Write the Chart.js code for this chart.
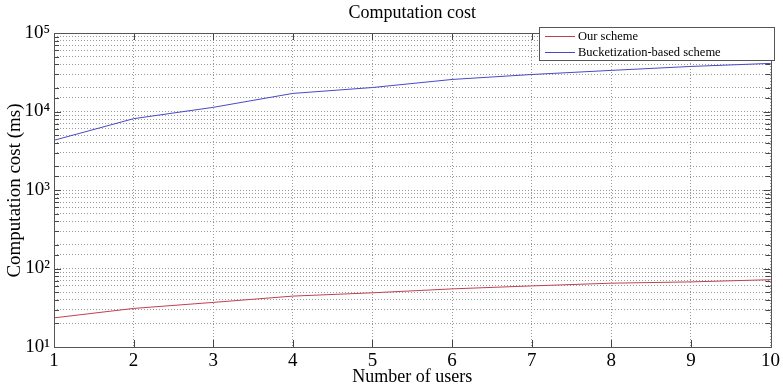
<!DOCTYPE html>
<html>
<head>
<meta charset="utf-8">
<script src="https://cdn.jsdelivr.net/npm/chart.js@4.4.0/dist/chart.umd.min.js"></script>
<style>
html,body{margin:0;padding:0;background:#fff;}
#wrap{width:783px;height:389px;}
</style>
</head>
<body>
<div id="wrap"><canvas id="c" width="783" height="389"></canvas></div>
<script>
const users = [1, 2, 3, 4, 5, 6, 7, 8, 9, 10];
const ourScheme = [23.5, 31, 37, 44.5, 49, 55, 60, 65, 67.5, 72];
const bucketScheme = [4300, 8100, 11300, 17000, 20200, 25600, 29600, 33400, 37500, 41000];
const xTickLabels = ['1','2','3','4','5','6','7','8','9','10'];
const titleText = 'Computation cost';
const xTitle = 'Number of users';
const yTitle = 'Computation cost (ms)';

const SERIF = "'Liberation Serif', 'Times New Roman', serif";
const SUP = {'0':'⁰','1':'¹','2':'²','3':'³','4':'⁴','5':'⁵','6':'⁶','7':'⁷','8':'⁸','9':'⁹'};
const RED = 'rgb(192,64,80)';
const BLUE = 'rgb(72,72,200)';

const decor = {
  id: 'decor',
  afterDraw(chart) {
    const ctx = chart.ctx;
    const a = chart.chartArea;
    const xs = chart.scales.x, ys = chart.scales.y;
    ctx.save();
    // inward tick marks
    ctx.strokeStyle = '#444';
    ctx.lineWidth = 1;
    ctx.setLineDash([]);
    ctx.beginPath();
    ys.ticks.forEach(t => {
      const y = Math.round(ys.getPixelForValue(t.value)) + 0.5;
      const major = Math.abs(Math.log10(t.value) - Math.round(Math.log10(t.value))) < 1e-9;
      const L = major ? 7 : 5;
      ctx.moveTo(a.left, y); ctx.lineTo(a.left + L, y);
      ctx.moveTo(a.right, y); ctx.lineTo(a.right - L, y);
    });
    xs.ticks.forEach(t => {
      const x = Math.round(xs.getPixelForValue(t.value)) + 0.5;
      ctx.moveTo(x, a.bottom); ctx.lineTo(x, a.bottom - 7);
      ctx.moveTo(x, a.top); ctx.lineTo(x, a.top + 7);
    });
    ctx.stroke();
    // frame
    ctx.strokeStyle = '#555';
    ctx.strokeRect(Math.round(a.left) + 0.5, Math.round(a.top) + 0.5,
                   Math.round(a.right - a.left), Math.round(a.bottom - a.top));
    // title
    ctx.fillStyle = '#000';
    ctx.font = '18px ' + SERIF;
    ctx.textAlign = 'center';
    ctx.textBaseline = 'middle';
    ctx.fillText(titleText, (a.left + a.right) / 2, 13);
    // x title
    ctx.fillText(xTitle, (a.left + a.right) / 2, 377);
    // y title
    ctx.save();
    ctx.font = '19px ' + SERIF;
    ctx.translate(15, 190.5);
    ctx.rotate(-Math.PI / 2);
    ctx.fillText(yTitle, 0, 0);
    ctx.restore();
    // legend
    const lx = 539, ly = 27, lw = 235, lh = 33;
    ctx.fillStyle = '#fff';
    ctx.fillRect(lx, ly, lw, lh);
    ctx.strokeStyle = '#555';
    ctx.strokeRect(lx + 0.5, ly + 0.5, lw, lh);
    ctx.font = '12.5px ' + SERIF;
    ctx.textAlign = 'left';
    chart.data.datasets.forEach((ds, i) => {
      const y = 35.5 + i * 16.5;
      ctx.strokeStyle = ds.borderColor;
      ctx.beginPath();
      ctx.moveTo(545, Math.round(y) + 0.5); ctx.lineTo(575, Math.round(y) + 0.5);
      ctx.stroke();
      ctx.fillStyle = '#000';
      ctx.fillText(ds.label, 578, y + 1);
    });
    ctx.restore();
  }
};

new Chart(document.getElementById('c'), {
  type: 'line',
  data: {
    labels: users,
    datasets: [
      { label: 'Our scheme', data: users.map((u, i) => ({x: u, y: ourScheme[i]})),
        borderColor: RED, borderWidth: 1, pointRadius: 0, tension: 0, fill: false },
      { label: 'Bucketization-based scheme', data: users.map((u, i) => ({x: u, y: bucketScheme[i]})),
        borderColor: BLUE, borderWidth: 1, pointRadius: 0, tension: 0, fill: false }
    ]
  },
  options: {
    responsive: false,
    animation: false,
    devicePixelRatio: 1,
    layout: { padding: { top: 33, right: 10, left: 0, bottom: 0 } },
    plugins: { legend: { display: false }, title: { display: false }, tooltip: { enabled: false } },
    scales: {
      x: {
        type: 'linear', min: 1, max: 10,
        afterFit(s) { s.height = 42; },
        grid: { color: '#999', drawTicks: false, lineWidth: 1 },
        border: { display: false, dash: [1, 2] },
        ticks: {
          stepSize: 1, padding: 3, color: '#000',
          font: { family: SERIF, size: 19 },
          callback: (v) => xTickLabels[v - 1] !== undefined ? xTickLabels[v - 1] : ''
        }
      },
      y: {
        type: 'logarithmic', min: 10, max: 100000,
        afterFit(s) { s.width = 54; },
        grid: { color: '#999', drawTicks: false, lineWidth: 1 },
        border: { display: false, dash: [1, 2] },
        ticks: {
          autoSkip: false, padding: 4, color: '#000',
          font: { family: SERIF, size: 19 },
          callback: (v) => {
            const e = Math.log10(v);
            if (Math.abs(e - Math.round(e)) > 1e-9) return '';
            return '10' + String(Math.round(e)).split('').map(c => SUP[c]).join('');
          }
        }
      }
    }
  },
  plugins: [decor]
});
</script>
</body>
</html>
